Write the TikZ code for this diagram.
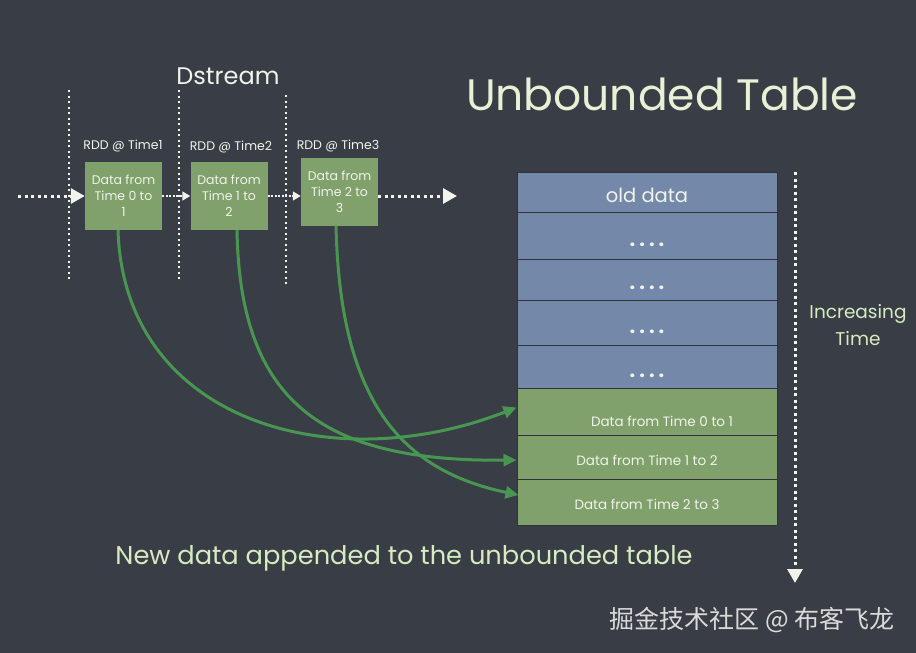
\documentclass[tikz,border=0pt]{standalone}
\usepackage{fontspec}
\setmainfont{Poppins}
\newfontfamily\cjkfont{Noto Sans CJK SC}
\usetikzlibrary{arrows.meta,calc}
\definecolor{board}{RGB}{57,62,70}
\definecolor{chalk}{RGB}{240,244,234}
\definecolor{titlec}{RGB}{232,240,214}
\definecolor{boxgreen}{RGB}{128,161,108}
\definecolor{rowblue}{RGB}{116,137,170}
\definecolor{curvegreen}{RGB}{72,150,82}
\definecolor{lightgreen}{RGB}{214,236,192}
\definecolor{rowline}{RGB}{48,52,58}
\definecolor{wm}{RGB}{218,218,218}
\tikzset{
  rddbox/.style={fill=boxgreen, minimum width=77pt, minimum height=68pt, inner sep=0pt, align=center, text=chalk, font=\fontsize{12.5}{16}\selectfont},
  rddlabel/.style={text=chalk, font=\fontsize{12.5}{13}\selectfont},
  sepline/.style={chalk, line width=2pt, dash pattern=on 2pt off 3.5pt},
  bigdots/.style={chalk, line width=3pt, dash pattern=on 3pt off 3.5pt},
  smalldots/.style={chalk, line width=1.6pt, dash pattern=on 2pt off 1.5pt},
  bigtip/.style={-{Triangle[length=14pt,width=15pt]}},
  smalltip/.style={-{Triangle[length=8pt,width=9pt]}},
  bluerow/.style={fill=rowblue, draw=rowline, line width=1pt, minimum width=260pt, inner sep=0pt},
  greenrow/.style={fill=boxgreen, draw=rowline, line width=1pt, minimum width=260pt, inner sep=0pt},
  rowtext/.style={text=chalk, font=\fontsize{13.5}{14}\selectfont},
  dotstext/.style={text=chalk, font=\bfseries\fontsize{20}{20}\selectfont},
  feed/.style={curvegreen, line width=3pt, -{Triangle[length=13pt,width=12pt]}},
}
\newcommand{\fourdots}{.\kern4pt.\kern4pt.\kern4pt.}
\begin{document}
\begin{tikzpicture}[x=1pt,y=-1pt]
\fill[board] (0,0) rectangle (916,653);
\useasboundingbox (0,0) rectangle (916,653);

% titles
\node[text=chalk, font=\fontsize{24}{27}\selectfont] (dstream) at (228,76) {Dstream};
\node[text=titlec, font=\fontsize{44}{48}\selectfont] (ubt) at (662,94) {Unbounded Table};

% separators
\coordinate (s1a) at (69,90);  \coordinate (s1b) at (69,280);
\coordinate (s2a) at (179,90); \coordinate (s2b) at (179,280);
\coordinate (s3a) at (286,95); \coordinate (s3b) at (286,287);
\draw[sepline] (s1a) -- (s1b);
\draw[sepline] (s2a) -- (s2b);
\draw[sepline] (s3a) -- (s3b);

% RDD labels
\node[rddlabel] (l1) at (123,146) {RDD @ Time1};
\node[rddlabel] (l2) at (231,147) {RDD @ Time2};
\node[rddlabel] (l3) at (338,146) {RDD @ Time3};

% RDD boxes
\node[rddbox] (b1) at (123.5,196) {Data from\\Time 0 to\\1};
\node[rddbox] (b2) at (229,196) {Data from\\Time 1 to\\2};
\node[rddbox] (b3) at (339.5,191.5) {Data from\\Time 2 to\\3};

% stream arrows
\coordinate (in) at (18,196);
\coordinate (out) at (457,196);
\draw[bigdots, bigtip] (in) -- (b1.west);
\draw[smalldots, smalltip] (b1.east) -- (b2.west);
\draw[smalldots, smalltip] (b2.east) -- (b2.east -| b3.west);
\draw[bigdots, bigtip] (b3.east |- out) -- (out);

% table rows
\node[bluerow, minimum height=40pt] (r0) at (647,192) {};
\node[bluerow, minimum height=47pt] (r1) at (647,235.5) {};
\node[bluerow, minimum height=41pt] (r2) at (647,279.5) {};
\node[bluerow, minimum height=45pt] (r3) at (647,322.5) {};
\node[bluerow, minimum height=43pt] (r4) at (647,366.5) {};
\node[greenrow, minimum height=47pt] (r5) at (647,411.5) {};
\node[greenrow, minimum height=44pt] (r6) at (647,457) {};
\node[greenrow, minimum height=46pt] (r7) at (647,502) {};

\node[text=chalk, font=\fontsize{19.5}{20}\selectfont] (old) at (647,195) {old data};
\node[dotstext] (d1) at (647,245) {\fourdots};
\node[dotstext] (d2) at (647,288) {\fourdots};
\node[dotstext] (d3) at (647,332) {\fourdots};
\node[dotstext] (d4) at (647,376) {\fourdots};
\node[rowtext] (t5) at (662,421) {Data from Time 0 to 1};
\node[rowtext] (t6) at (647,460) {Data from Time 1 to 2};
\node[rowtext] (t7) at (647,504) {Data from Time 2 to 3};

% time axis
\coordinate (ta) at (795,172);
\coordinate (tb) at (795,583);
\draw[bigdots, bigtip] (ta) -- (tb);
\node[text=lightgreen, align=center, font=\fontsize{18.5}{27}\selectfont] (inc) at (858,325) {Increasing\\Time};

% feed curves
\draw[feed] (b1.south -| 118,0) .. controls (124,420) and (330,480) .. ($(r5.west)+(0,-4)$);
\draw[feed] (b2.south -| 237,0) .. controls (240,400) and (320,462) .. ($(r6.west)+(0,3)$);
\draw[feed] (b3.south -| 336,0) .. controls (340,400) and (400,470) .. ($(r7.west)+(2,-7)$);

% caption
\node[text=lightgreen, font=\fontsize{25.7}{28}\selectfont] (cap) at (404,558) {New data appended to the unbounded table};

% watermark
\node[text=wm, font=\cjkfont\fontsize{25}{28}\selectfont, anchor=east] (wmk) at (898,620) {掘金技术社区 @ 布客飞龙};
\end{tikzpicture}
\end{document}
